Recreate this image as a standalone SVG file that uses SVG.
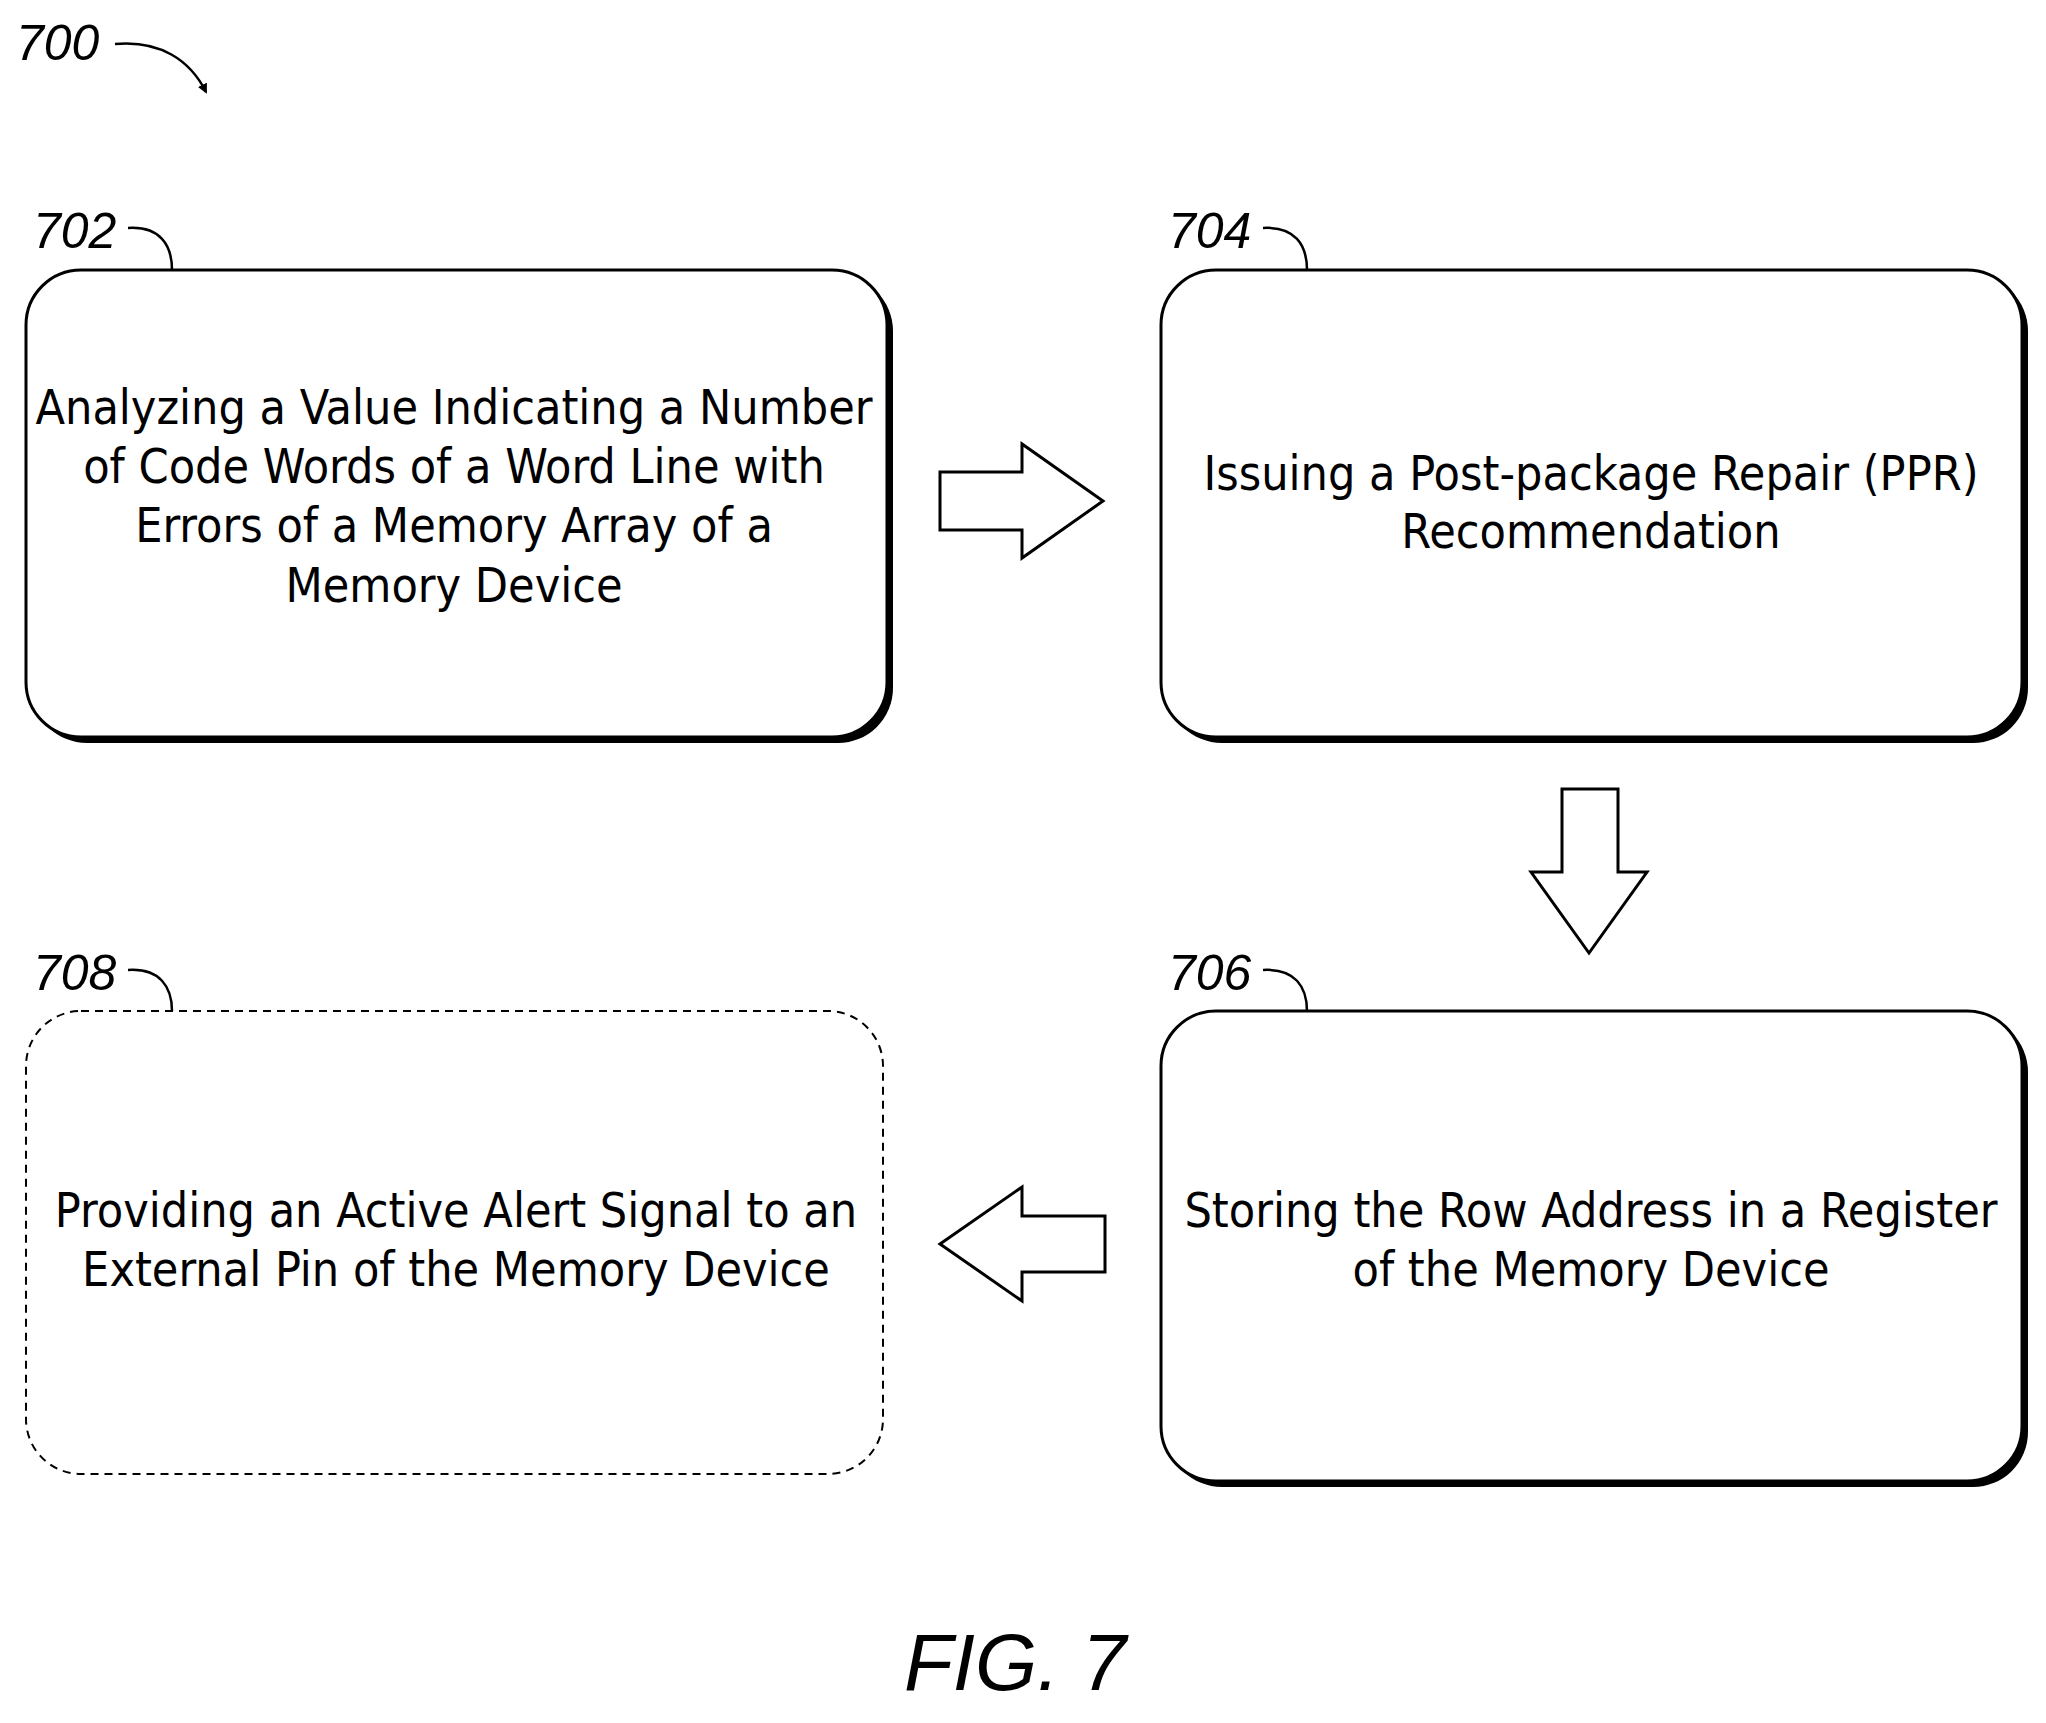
<svg xmlns="http://www.w3.org/2000/svg" width="2046" height="1723" viewBox="0 0 2046 1723">
<style>
.box{fill:#fff;stroke:#000;stroke-width:3}
.sh{fill:#000}
.t{font-family:"Liberation Sans Narrow","DejaVu Sans Condensed","Liberation Sans",sans-serif;font-size:48px;text-anchor:middle;fill:#000}
.lb{font-family:"Liberation Sans","DejaVu Sans",sans-serif;font-style:italic;font-size:50px;fill:#000}
.ld{fill:none;stroke:#000;stroke-width:2.5}
.ar{fill:#fff;stroke:#000;stroke-width:3}
</style>
<defs><marker id="m" markerWidth="10" markerHeight="10" refX="8" refY="5" orient="auto" markerUnits="userSpaceOnUse"><path d="M0,0 L10,5 L0,10 Z" fill="#000"/></marker></defs>
<rect width="2046" height="1723" fill="#fff"/>
<g id="n700"><text class="lb" x="16" y="60">700</text><path class="ld" d="M115,44 C160,40 190,60 206,92" marker-end="url(#m)"/></g>
<g id="n702"><rect class="sh" x="32" y="276" width="861" height="467" rx="55"/><rect class="box" x="26" y="270" width="861" height="467" rx="55"/>
<text class="t" x="454" y="424">Analyzing a Value Indicating a Number</text><text class="t" x="454" y="483">of Code Words of a Word Line with</text><text class="t" x="454" y="542">Errors of a Memory Array of a</text><text class="t" x="454" y="602">Memory Device</text>
<text class="lb" x="33" y="248">702</text><path class="ld" d="M128,228 C160,226 172,245 172,270"/></g>
<g id="n704"><rect class="sh" x="1167" y="276" width="861" height="467" rx="55"/><rect class="box" x="1161" y="270" width="861" height="467" rx="55"/>
<text class="t" x="1591" y="490">Issuing a Post-package Repair (PPR)</text><text class="t" x="1591" y="548">Recommendation</text>
<text class="lb" x="1168" y="248">704</text><path class="ld" d="M1263,228 C1295,226 1307,245 1307,270"/></g>
<g id="n706"><rect class="sh" x="1167" y="1017" width="861" height="470" rx="55"/><rect class="box" x="1161" y="1011" width="861" height="470" rx="55"/>
<text class="t" x="1591" y="1227">Storing the Row Address in a Register</text><text class="t" x="1591" y="1286">of the Memory Device</text>
<text class="lb" x="1168" y="990">706</text><path class="ld" d="M1263,970 C1295,968 1307,987 1307,1011"/></g>
<g id="n708"><rect x="26" y="1011" width="857" height="463" rx="55" fill="#fff" stroke="#000" stroke-width="2" stroke-dasharray="8,6"/>
<text class="t" x="456" y="1227">Providing an Active Alert Signal to an</text><text class="t" x="456" y="1286">External Pin of the Memory Device</text>
<text class="lb" x="33" y="990">708</text><path class="ld" d="M128,970 C160,968 172,987 172,1011"/></g>
<g id="connectors">
<path class="ar" d="M940,472 H1022 V444 L1103,501 L1022,558 V530 H940 Z"/>
<path class="ar" d="M1562,789 H1618 V872 H1647 L1589,953 L1531,872 H1562 Z"/>
<path class="ar" d="M1105,1216 H1022 V1187 L940,1244 L1022,1301 V1272 H1105 Z"/>
</g>
<text x="904" y="1690" font-family="Liberation Sans,sans-serif" font-style="italic" font-size="80">FIG.  7</text>
</svg>
